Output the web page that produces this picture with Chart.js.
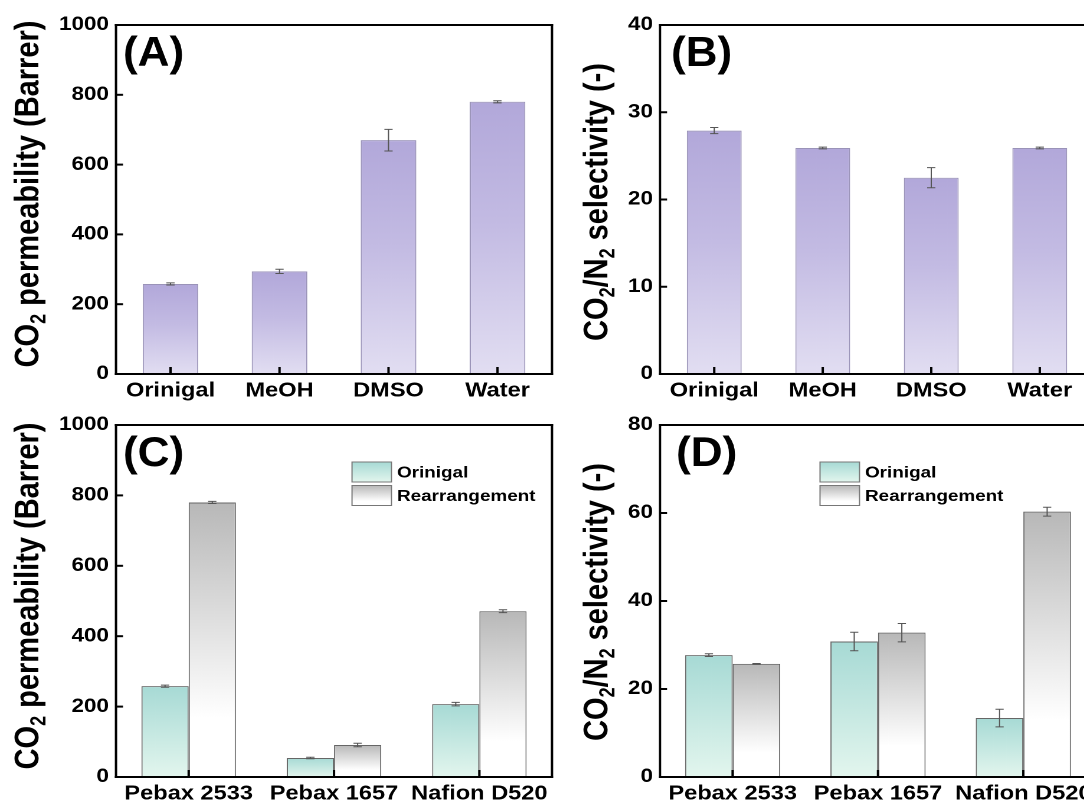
<!DOCTYPE html>
<html>
<head>
<meta charset="utf-8">
<script src="https://cdn.jsdelivr.net/npm/chart.js@4.4.1/dist/chart.umd.min.js"></script>
<style>
  html, body { margin: 0; padding: 0; background: #fff; overflow: hidden; width: 1084px; height: 805px; }
  .panel { position: absolute; transform-origin: 0 0; }
</style>
</head>
<body>
<div class="panel" id="wrapA"><canvas id="chartA"></canvas></div>
<div class="panel" id="wrapB"><canvas id="chartB"></canvas></div>
<div class="panel" id="wrapC"><canvas id="chartC"></canvas></div>
<div class="panel" id="wrapD"><canvas id="chartD"></canvas></div>
<script>
// data
const solvents = ["Orinigal", "MeOH", "DMSO", "Water"];
const solventPermeability = [258, 294, 670, 780];
const solventPermeabilityErr = [3, 6, 31, 3];
const solventSelectivity = [27.9, 25.9, 22.5, 25.9];
const solventSelectivityErr = [0.35, 0.1, 1.15, 0.1];

const membranes = ["Pebax 2533", "Pebax 1657", "Nafion D520"];
const permOriginal = [258, 54, 207];
const permOriginalErr = [3, 2, 5];
const permRearranged = [780, 91, 471];
const permRearrangedErr = [3, 5, 4];
const selOriginal = [27.7, 30.8, 13.4];
const selOriginalErr = [0.3, 2.1, 2.0];
const selRearranged = [25.7, 32.8, 60.3];
const selRearrangedErr = [0.1, 2.1, 1.0];

const SX = 1.18; // the figure is stretched horizontally
const FONT = "'Liberation Sans', Arial, sans-serif";

const purpleFill = [[0, "#b2a8da"], [0.45, "#c3bbe3"], [1, "#e2def2"]];
const tealFill = [[0, "#a7dad5"], [1, "#e3f6ee"]];
const grayFill = [[0, "#b8b8b8"], [0.78, "#ffffff"], [1, "#ffffff"]];

const permTitle = [{ t: "CO" }, { t: "2", sub: true }, { t: " permeability (Barrer)" }];
const selTitle = [{ t: "CO" }, { t: "2", sub: true }, { t: "/N" }, { t: "2", sub: true }, { t: " selectivity (-)" }];

function barGradient(stops) {
  return function (c) {
    const chart = c.chart;
    if (!chart.chartArea || c.type !== "data") return stops[0][1];
    const y = chart.scales.y;
    const top = y.getPixelForValue(c.raw);
    const base = y.getPixelForValue(0);
    if (!(base > top)) return stops[0][1];
    const g = chart.ctx.createLinearGradient(0, top, 0, base);
    stops.forEach(s => g.addColorStop(s[0], s[1]));
    return g;
  };
}

function drawTitle(ctx, parts, cx, cy, size) {
  const big = "bold " + size + "px " + FONT;
  const small = "bold " + Math.round(size * 0.62) + "px " + FONT;
  ctx.save();
  ctx.translate(cx, cy);
  ctx.rotate(-Math.PI / 2);
  let w = 0;
  parts.forEach(p => { ctx.font = p.sub ? small : big; w += ctx.measureText(p.t).width; });
  let px = -w / 2;
  ctx.fillStyle = "#000";
  ctx.textBaseline = "alphabetic";
  parts.forEach(p => {
    ctx.font = p.sub ? small : big;
    ctx.fillText(p.t, px, size * 0.36 + (p.sub ? size * 0.2 : 0));
    px += ctx.measureText(p.t).width;
  });
  ctx.restore();
}

// frame, inward ticks, error bars, panel letter, axis title, legend
function decorPlugin(o) {
  return {
    id: "decor",
    afterDatasetsDraw(chart) {
      const ctx = chart.ctx;
      const a = chart.chartArea;
      const x = chart.scales.x, y = chart.scales.y;
      ctx.save();
      ctx.globalAlpha = 1;
      ctx.globalCompositeOperation = "source-over";

      chart.data.datasets.forEach((ds, di) => {
        const meta = chart.getDatasetMeta(di);
        meta.data.forEach((bar, i) => {
          const v = ds.data[i], e = ds.errors[i];
          const yt = y.getPixelForValue(v + e), yb = y.getPixelForValue(v - e);
          ctx.strokeStyle = "#555";
          ctx.lineWidth = 1;
          ctx.beginPath();
          ctx.moveTo(bar.x, yt); ctx.lineTo(bar.x, yb);
          ctx.moveTo(bar.x - 3.5, yt); ctx.lineTo(bar.x + 3.5, yt);
          ctx.moveTo(bar.x - 3.5, yb); ctx.lineTo(bar.x + 3.5, yb);
          ctx.stroke();
        });
      });

      // frame and ticks as filled strips
      ctx.fillStyle = "#000";
      const lw = 2;
      const right = a.right + o.frameExtend;
      ctx.fillRect(a.left - lw / 2, a.top - lw / 2, right - a.left + lw, lw);
      ctx.fillRect(a.left - lw / 2, a.bottom - lw / 2, right - a.left + lw, lw);
      ctx.fillRect(a.left - lw / 2, a.top - lw / 2, lw, a.bottom - a.top + lw);
      ctx.fillRect(right - lw / 2, a.top - lw / 2, lw, a.bottom - a.top + lw);
      chart.data.labels.forEach((l, i) => {
        const px = x.getPixelForValue(i);
        ctx.fillRect(px - 1, a.bottom - 7, 2, 7);
      });
      y.ticks.forEach(t => {
        const py = y.getPixelForValue(t.value);
        ctx.fillRect(a.left, py - 1, 6, 2);
      });

      // panel letter, a little less stretched than the rest
      ctx.save();
      ctx.translate(o.letterX, o.letterY);
      ctx.scale(0.89, 1);
      ctx.font = "bold 42px " + FONT;
      ctx.textBaseline = "alphabetic";
      ctx.fillText(o.letter, 0, 0);
      ctx.restore();

      drawTitle(ctx, o.title, o.titleX, o.titleY, 29);

      if (o.legend) {
        o.legend.forEach(item => {
          const g = ctx.createLinearGradient(0, item.y, 0, item.y + item.h);
          item.stops.forEach(s => g.addColorStop(s[0], s[1]));
          ctx.fillStyle = g;
          ctx.fillRect(item.x, item.y, item.w, item.h);
          ctx.strokeStyle = "#777";
          ctx.lineWidth = 1;
          ctx.strokeRect(item.x, item.y, item.w, item.h);
          ctx.fillStyle = "#000";
          ctx.font = "bold 16px " + FONT;
          ctx.textBaseline = "middle";
          ctx.fillText(item.label, item.tx, item.y + item.h / 2 + 1);
        });
      }
      ctx.restore();
    }
  };
}

function makePanel(p) {
  const wrap = document.getElementById(p.wrap);
  wrap.style.left = p.left + "px";
  wrap.style.top = p.top + "px";
  wrap.style.transform = "scaleX(" + SX + ")";
  const cw = Math.ceil(p.width / SX);
  const canvas = document.getElementById(p.id);
  canvas.width = cw;
  canvas.height = p.height;
  const toX = rx => (rx - p.left) / SX;
  const toY = ry => ry - p.top;
  const areaL = toX(p.area.l), areaR = toX(p.area.r);

  const legend = p.legend ? p.legend.map((it, k) => ({
    label: it.label, stops: it.stops,
    x: toX(p.legendX), y: toY(p.legendY + k * 23.5), w: 39.5 / SX, h: 20,
    tx: toX(p.legendX + 45)
  })) : null;

  const deco = decorPlugin({
    frameExtend: (p.frameExtend || 0) / SX,
    letter: p.letter, letterX: toX(p.letterX), letterY: toY(p.letterY),
    title: p.title, titleX: toX(p.titleX), titleY: toY(p.titleY),
    legend: legend
  });

  return new Chart(canvas, {
    type: "bar",
    data: {
      labels: p.labels,
      datasets: p.series.map(s => ({
        label: s.label,
        data: s.data,
        errors: s.errors,
        backgroundColor: barGradient(s.fill),
        borderColor: s.border,
        borderWidth: 1,
        borderSkipped: false,
        barPercentage: p.barPct,
        categoryPercentage: p.catPct
      }))
    },
    options: {
      responsive: false,
      animation: false,
      devicePixelRatio: 2,
      layout: { padding: { left: 0, right: cw - areaR, top: toY(p.area.t), bottom: 0 } },
      plugins: {
        legend: { display: false },
        tooltip: { enabled: false }
      },
      scales: {
        x: {
          grid: { display: false, drawTicks: false },
          border: { display: false },
          ticks: { color: "#000", padding: 5, maxRotation: 0, autoSkip: false, font: { family: FONT, size: 20, weight: "bold" } },
          afterFit: s => { s.height = p.height - toY(p.area.b); }
        },
        y: {
          min: 0, max: p.yMax,
          grid: { display: false, drawTicks: false },
          border: { display: false },
          ticks: {
            stepSize: p.yStep, color: "#000", padding: 6,
            font: { family: FONT, size: 19, weight: "bold" },
            callback: v => String(v)
          },
          afterFit: s => { s.width = areaL; }
        }
      }
    },
    plugins: [deco]
  });
}

makePanel({
  wrap: "wrapA", id: "chartA", left: 0, top: 0, width: 556, height: 412,
  area: { l: 116, r: 552, t: 25, b: 374 },
  labels: solvents, yMax: 1000, yStep: 200, barPct: 0.51, catPct: 1,
  letter: "(A)", letterX: 123, letterY: 66, title: permTitle, titleX: 26, titleY: 194,
  series: [{ label: "CO2 permeability", data: solventPermeability, errors: solventPermeabilityErr, fill: purpleFill, border: "#9a93b8" }]
});

makePanel({
  wrap: "wrapB", id: "chartB", left: 556, top: 0, width: 560, height: 412,
  area: { l: 660, r: 1094, t: 25, b: 374 },
  labels: solvents, yMax: 40, yStep: 10, barPct: 0.505, catPct: 1,
  letter: "(B)", letterX: 671, letterY: 66, title: selTitle, titleX: 595, titleY: 202,
  series: [{ label: "CO2/N2 selectivity", data: solventSelectivity, errors: solventSelectivityErr, fill: purpleFill, border: "#9a93b8" }]
});

makePanel({
  wrap: "wrapC", id: "chartC", left: 0, top: 400, width: 556, height: 405,
  area: { l: 116, r: 552, t: 425, b: 777 },
  labels: membranes, yMax: 1000, yStep: 200, barPct: 1, catPct: 0.65,
  letter: "(C)", letterX: 123, letterY: 466, title: permTitle, titleX: 26, titleY: 596,
  legend: [{ label: "Orinigal", stops: tealFill }, { label: "Rearrangement", stops: grayFill }],
  legendX: 352, legendY: 462,
  series: [
    { label: "Orinigal", data: permOriginal, errors: permOriginalErr, fill: tealFill, border: "#666" },
    { label: "Rearrangement", data: permRearranged, errors: permRearrangedErr, fill: grayFill, border: "#666" }
  ]
});

makePanel({
  wrap: "wrapD", id: "chartD", left: 556, top: 400, width: 560, height: 405,
  area: { l: 660, r: 1096, t: 425, b: 777 },
  labels: membranes, yMax: 80, yStep: 20, barPct: 1, catPct: 0.655,
  letter: "(D)", letterX: 676, letterY: 466, title: selTitle, titleX: 595, titleY: 602,
  legend: [{ label: "Orinigal", stops: tealFill }, { label: "Rearrangement", stops: grayFill }],
  legendX: 820, legendY: 462,
  series: [
    { label: "Orinigal", data: selOriginal, errors: selOriginalErr, fill: tealFill, border: "#666" },
    { label: "Rearrangement", data: selRearranged, errors: selRearrangedErr, fill: grayFill, border: "#666" }
  ]
});
</script>
</body>
</html>
